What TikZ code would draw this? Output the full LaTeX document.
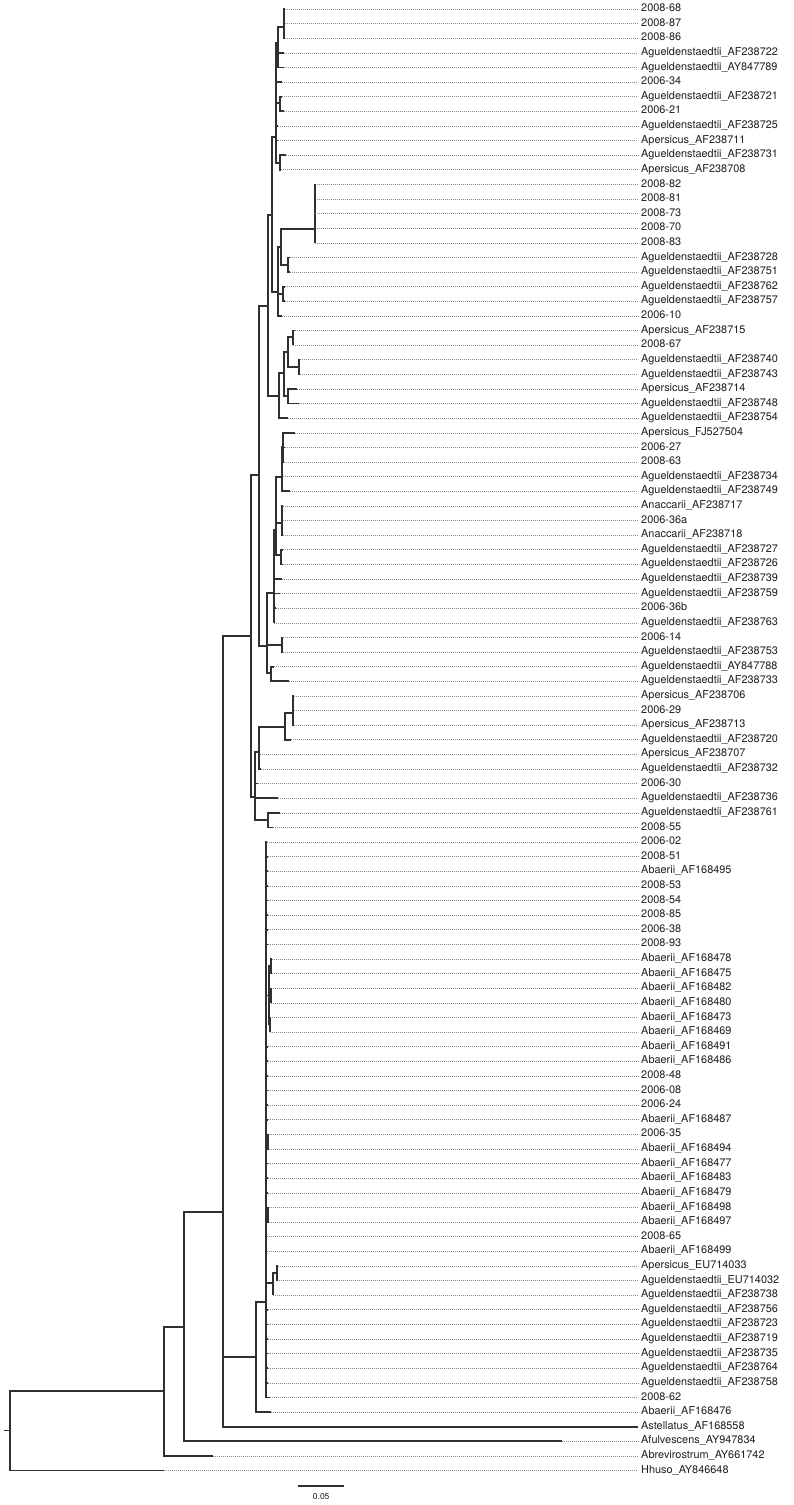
\documentclass[tikz,border=0pt]{standalone}
\usepackage{fontspec}
\setmainfont{TeX Gyre Heros}
\definecolor{brc}{HTML}{303030}
\definecolor{dotc}{HTML}{8C8C8C}
\definecolor{txtc}{HTML}{1E1E1E}
\begin{document}
\begin{tikzpicture}[x=1pt,y=-1pt,
  br/.style={draw=brc,line width=1.7pt},
  dt/.style={draw=dotc,line width=0.6pt,dash pattern=on 0.8pt off 1.2pt,shorten >=3pt},
  lab/.style={anchor=mid west,inner sep=0pt,font=\fontsize{10.9}{12}\selectfont,text=txtc},
  sbl/.style={inner sep=0pt,font=\fontsize{8.5}{9}\selectfont,text=txtc}]
\useasboundingbox (0,0) rectangle (794,1505);
% internal nodes
\coordinate (A284) at (284.3,26.7);
\coordinate (A278) at (278.3,43);
\coordinate (A280) at (280,103.3);
\coordinate (A280b) at (280,163.3);
\coordinate (A276) at (276,136.7);
\coordinate (A314) at (314.7,229.3);
\coordinate (A288) at (288.3,265);
\coordinate (A281) at (281,246.7);
\coordinate (A283) at (283.3,294);
\coordinate (A277) at (277.7,291.7);
\coordinate (A272) at (272,215);
\coordinate (A293) at (293.3,336.7);
\coordinate (A299) at (299.3,366.7);
\coordinate (A288b) at (288.3,351.7);
\coordinate (A287) at (287.7,396);
\coordinate (A284b) at (284.3,373.3);
\coordinate (A279) at (279.3,396);
\coordinate (A268) at (268.3,306);
\coordinate (G1) at (259.3,475.3);
\coordinate (N283) at (283.3,447);
\coordinate (N281a) at (281.7,476.7);
\coordinate (N281b) at (281.7,523.3);
\coordinate (N281c) at (281,555);
\coordinate (N276) at (276,530);
\coordinate (N273) at (274,593.3);
\coordinate (N282) at (281.7,644.8);
\coordinate (N271) at (271,673.3);
\coordinate (G1b) at (267.3,646);
\coordinate (N293b) at (293.3,713.3);
\coordinate (N285) at (285,726.7);
\coordinate (N259) at (259,752);
\coordinate (N268) at (268,820);
\coordinate (G2) at (255,796.7);
\coordinate (G0) at (251,636);
\coordinate (Nb1a) at (271,966.2);
\coordinate (Nb1b) at (270.7,995.4);
\coordinate (Nb1c) at (270,1024.6);
\coordinate (Nb1) at (269.3,995.4);
\coordinate (Nb2) at (268.3,1141.6);
\coordinate (Nb4) at (268.3,1214.7);
\coordinate (Nb3a) at (276.7,1273.2);
\coordinate (Nb3) at (273.3,1283.3);
\coordinate (B1) at (266,1302);
\coordinate (B0) at (256,1357.3);
\coordinate (S) at (223.3,1211.7);
\coordinate (N184) at (184,1326.7);
\coordinate (N164) at (164.3,1390.7);
\coordinate (R) at (10,1430.6);
\coordinate (R0) at (4,1430.6);
% internal edges
\foreach \a/\b in {A278/A284, A276/A278, A276/A280, A276/A280b, A281/A314, A281/A288,
  A277/A281, A277/A283, A272/A276, A272/A277, A288b/A293, A288b/A299, A284b/A288b,
  A284b/A287, A279/A284b, A268/A272, A268/A279, G1/A268, G1/G1b, N281a/N283,
  N276/N281a, N276/N281b, N276/N281c, N273/N276, G1b/N273, G1b/N282, G1b/N271,
  N285/N293b, N259/N285, G2/N259, G2/N268, G0/G1, G0/G2, Nb1/Nb1a, Nb1/Nb1b, Nb1/Nb1c,
  B1/Nb1, B1/Nb2, B1/Nb4, B1/Nb3, Nb3/Nb3a, B0/B1, S/G0, S/B0, N184/S, N164/N184, R/N164}
  {\draw[br] (\a) |- (\b);}
\draw[br] (R0) -- (R);
% leaves
\foreach \i/\p/\tx/\lbl in {
1/A284/285/2008-68,
2/A284/285/2008-87,
3/A284/285/2008-86,
4/A278/284.3/Agueldenstaedtii\_AF238722,
5/A278/284.3/Agueldenstaedtii\_AY847789,
6/A276/282/2006-34,
7/A280/282/Agueldenstaedtii\_AF238721,
8/A280/284.3/2006-21,
9/A276/277.7/Agueldenstaedtii\_AF238725,
10/A276/278/Apersicus\_AF238711,
11/A280b/285.7/Agueldenstaedtii\_AF238731,
12/A280b/280.5/Apersicus\_AF238708,
13/A314/314.7/2008-82,
14/A314/314.7/2008-81,
15/A314/314.7/2008-73,
16/A314/314.7/2008-70,
17/A314/314.7/2008-83,
18/A288/290/Agueldenstaedtii\_AF238728,
19/A288/290/Agueldenstaedtii\_AF238751,
20/A283/284.5/Agueldenstaedtii\_AF238762,
21/A283/284.5/Agueldenstaedtii\_AF238757,
22/A277/281.7/2006-10,
23/A293/295/Apersicus\_AF238715,
24/A293/293.3/2008-67,
25/A299/300/Agueldenstaedtii\_AF238740,
26/A299/300/Agueldenstaedtii\_AF238743,
27/A287/296.7/Apersicus\_AF238714,
28/A287/299.3/Agueldenstaedtii\_AF238748,
29/A279/287.7/Agueldenstaedtii\_AF238754,
30/N283/295/Apersicus\_FJ527504,
31/N283/285/2006-27,
32/N283/284/2008-63,
33/N281a/283/Agueldenstaedtii\_AF238734,
34/N281a/290/Agueldenstaedtii\_AF238749,
35/N281b/283/Anaccarii\_AF238717,
36/N281b/283/2006-36a,
37/N281b/283/Anaccarii\_AF238718,
38/N281c/283/Agueldenstaedtii\_AF238727,
39/N281c/283/Agueldenstaedtii\_AF238726,
40/N273/281.7/Agueldenstaedtii\_AF238739,
41/N273/280/Agueldenstaedtii\_AF238759,
42/N273/275.5/2006-36b,
43/N273/274/Agueldenstaedtii\_AF238763,
44/N282/283/2006-14,
45/N282/283/Agueldenstaedtii\_AF238753,
46/N271/274.3/Agueldenstaedtii\_AY847788,
47/N271/289/Agueldenstaedtii\_AF238733,
48/N293b/294/Apersicus\_AF238706,
49/N293b/294/2006-29,
50/N293b/294/Apersicus\_AF238713,
51/N285/291/Agueldenstaedtii\_AF238720,
52/N259/260/Apersicus\_AF238707,
53/N259/261/Agueldenstaedtii\_AF238732,
54/G2/258.3/2006-30,
55/G2/278/Agueldenstaedtii\_AF238736,
56/N268/279.5/Agueldenstaedtii\_AF238761,
57/N268/273/2008-55,
58/B1/266.7/2006-02,
59/B1/267.5/2008-51,
60/B1/267.5/Abaerii\_AF168495,
61/B1/267.5/2008-53,
62/B1/267.5/2008-54,
63/B1/267.5/2008-85,
64/B1/267.5/2006-38,
65/B1/267.5/2008-93,
66/Nb1a/271.5/Abaerii\_AF168478,
67/Nb1a/271.5/Abaerii\_AF168475,
68/Nb1b/270.7/Abaerii\_AF168482,
69/Nb1b/270.7/Abaerii\_AF168480,
70/Nb1c/270/Abaerii\_AF168473,
71/Nb1c/270/Abaerii\_AF168469,
72/B1/267.5/Abaerii\_AF168491,
73/B1/267.5/Abaerii\_AF168486,
74/B1/267.5/2008-48,
75/B1/267.5/2006-08,
76/B1/267.5/2006-24,
77/B1/267.5/Abaerii\_AF168487,
78/Nb2/268.5/2006-35,
79/Nb2/268.5/Abaerii\_AF168494,
80/B1/267.5/Abaerii\_AF168477,
81/B1/267.5/Abaerii\_AF168483,
82/B1/267.5/Abaerii\_AF168479,
83/Nb4/269/Abaerii\_AF168498,
84/Nb4/269/Abaerii\_AF168497,
85/B1/267/2008-65,
86/B1/267/Abaerii\_AF168499,
87/Nb3a/278/Apersicus\_EU714033,
88/Nb3a/276.7/Agueldenstaedtii\_EU714032,
89/Nb3/273.3/Agueldenstaedtii\_AF238738,
90/B1/267.5/Agueldenstaedtii\_AF238756,
91/B1/267.5/Agueldenstaedtii\_AF238723,
92/B1/267.5/Agueldenstaedtii\_AF238719,
93/B1/267.5/Agueldenstaedtii\_AF238735,
94/B1/267.5/Agueldenstaedtii\_AF238764,
95/B1/267.5/Agueldenstaedtii\_AF238758,
96/B1/270/2008-62,
97/B0/270.7/Abaerii\_AF168476,
98/S/638/Astellatus\_AF168558,
99/N184/561.7/Afulvescens\_AY947834,
100/N164/213.3/Abrevirostrum\_AY661742,
101/R/164.3/Hhuso\_AY846648}
{
  \pgfmathsetmacro\yy{9+(\i-1)*14.615}
  \coordinate (T\i) at (\tx,\yy);
  \node[lab] (L\i) at (641,\yy) {\lbl};
  \draw[dt] (T\i) -- (L\i.mid west);
  \draw[br] (\p) |- (T\i);
}
% scale bar
\coordinate (SB1) at (297.7,1486);
\coordinate (SB2) at (344.3,1486);
\draw[br] (SB1) -- (SB2);
\node[sbl] (SBL) at (321.2,1497) {0.05};
\end{tikzpicture}
\end{document}
